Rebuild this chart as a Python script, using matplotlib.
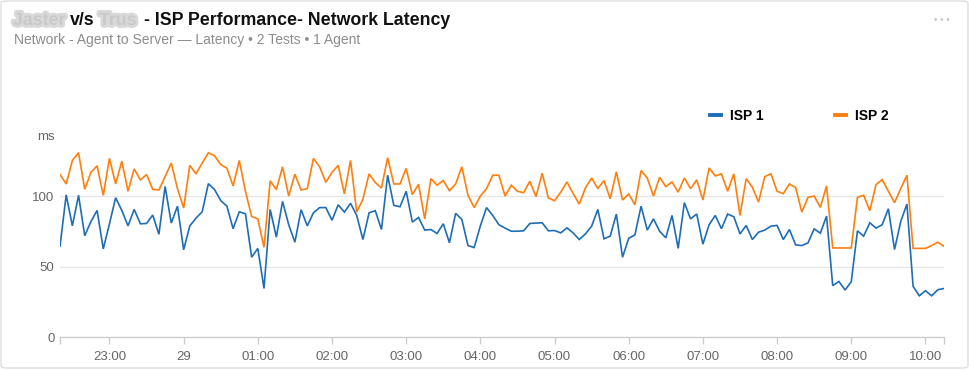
import matplotlib
matplotlib.use("Agg")
import matplotlib.pyplot as plt
import matplotlib.dates as mdates
import matplotlib.patheffects as pe
from matplotlib.patches import FancyBboxPatch
from matplotlib.ticker import FuncFormatter
import pandas as pd

plt.rcParams['font.family'] = ['Liberation Sans', 'DejaVu Sans']

# ---- data ----
start_time = "2024-03-28 22:20"
interval = "5min"
series_names = ["ISP 1", "ISP 2"]
series_colors = ["#1f6db5", "#ff7f0e"]

isp1 = [64.5, 101, 79, 100.7, 72, 82, 90, 62.6, 80.5, 99, 90, 79, 90.7, 80.5, 80.7, 86.7, 73, 107, 81, 93,
        62, 79, 84.5, 89, 109, 104.8, 97, 93, 77, 89, 87.6, 56.7, 63, 34.5, 90.7, 71, 96.4,
        79.8, 67.4, 90.5, 79, 88.3, 92, 92, 83, 94, 88.8, 95, 86.4, 69.3, 88.3, 89.8, 76.4, 115, 93.6, 92.6,
        103.6, 81.7, 85, 76, 76.4, 73.6, 80.5, 67, 87.9, 83.6, 65, 63.6, 79, 92, 86.4, 79.8,
        77.4, 75.2, 75.2, 75.5, 80.7, 81, 81.2, 75.5, 75.7, 74, 77.6, 74, 69.3, 73.3, 78.8, 90.7, 69.8, 71.7,
        87.4, 56.7, 70.2, 72.6, 93, 76, 84, 75.2, 70.5, 86.4, 63, 95.5, 84, 87.4, 66, 79.8, 86.4, 77,
        87.4, 85.5, 73.3, 79.3, 69.3, 74.5, 76, 78.8, 79.3, 69.3, 76.4, 65.5, 65, 66.9, 76.9, 73.8, 86,
        36.5, 39.5, 33.4, 39.3, 75.5, 71.7, 81.2, 77.4, 79.8, 91.2, 62.2, 82.1, 94.5, 36, 29.3, 32.9, 29.3,
        33.6, 34.5]

isp2 = [115.5, 108.8, 125.5, 131, 105, 117, 121.7, 100.7, 127, 108.8, 125, 103.6, 119.5, 111.7, 115.5, 105,
        104.5, 114, 123.6, 105.5, 91.7, 122, 116, 123.6, 131, 128.8, 122.6, 120, 107.4, 125.5, 103.6, 85.7,
        84, 63.8, 111, 104.8, 121,
        100.2, 115.7, 104.5, 105.5, 127, 121, 110, 117, 122, 101.7, 125.5, 88.8, 97.9, 116, 109.8, 106,
        127.4, 108.8, 108.8, 119.8, 101.2, 108.6, 84, 112.6, 107.9, 111.2, 104, 108.8, 121, 100.7, 92,
        100.2, 105.5, 115, 115,
        100.2, 107.9, 103.6, 102.6, 110.7, 99.8, 116.4, 98.8, 96.9, 103, 110.2, 102, 94.5, 106, 113, 105.5,
        111.2, 98.3, 117.4, 97.4, 101.7, 94, 118.3, 113, 100.2, 113.6, 106.9, 110.2, 103, 113, 105.5,
        111.7, 97.4, 120.2, 114.5, 116,
        103.6, 116, 86.4, 112.6, 106.4, 96, 114, 116, 103.6, 101.9, 108.8, 106.2, 88.8, 99.3, 100.2, 92.1,
        107.4, 63.3, 63.3, 63.3, 63.3, 99.3, 100.7, 89.8, 108.3, 111.9, 103.6, 95.5, 105.5, 115, 63, 63,
        63, 65, 67.4, 64.5]

y_ticks = [0, 50, 100]
y_grid = [50, 100]
y_label = "ms"

title_hidden_1 = "Jaster"
title_vs = "v/s"
title_hidden_2 = "Trus"
title_rest = "- ISP Performance- Network Latency"
subtitle = "Network - Agent to Server \u2014 Latency \u2022 2 Tests \u2022 1 Agent"

times = pd.date_range(start_time, periods=len(isp1), freq=interval)

# ---- figure ----
W, H = 970, 370
fig = plt.figure(figsize=(W / 100, H / 100), dpi=100, facecolor="white")

def fx(px):
    return px / W

def fy(py):
    return (H - py) / H

card = FancyBboxPatch((fx(1), fy(368)), fx(967), (368 - 1) / H, boxstyle="round,pad=0,rounding_size=0.006",
                      transform=fig.transFigure, facecolor="white", edgecolor="#dedede", linewidth=1.0,
                      zorder=-10)
fig.patches.append(card)

ax_left, ax_right = 60, 944
ax_bottom, ax_top = 337, 126
ax = fig.add_axes([fx(ax_left), fy(ax_bottom), fx(ax_right - ax_left), (ax_bottom - ax_top) / H])
ax.set_zorder(5)
ax.set_facecolor("none")

for vals, name, col in zip([isp1, isp2], series_names, series_colors):
    ax.plot(times, vals, color=col, linewidth=1.2, label=name, solid_joinstyle="miter")

ax.set_xlim(times[0], times[-1])
ax.set_ylim(0, 150)

for s in ["top", "right", "left"]:
    ax.spines[s].set_visible(False)
ax.spines["bottom"].set_color("#cccccc")
ax.spines["bottom"].set_linewidth(1.0)

ax.set_yticks(y_ticks)
ax.tick_params(axis="y", length=0, pad=4, labelsize=9.5, labelcolor="#666666")
for g in y_grid:
    ax.axhline(g, color="#e6e6e6", linewidth=1.0, zorder=0)

ax.xaxis.set_major_locator(mdates.HourLocator())
def fmt(x, pos):
    d = mdates.num2date(x)
    if d.hour == 0 and d.minute == 0:
        return f"{d.day}"
    return d.strftime("%H:%M")
ax.xaxis.set_major_formatter(FuncFormatter(fmt))
ax.set_xticks([mdates.date2num(times[0]), mdates.date2num(times[-1])], minor=True)
ax.tick_params(axis="x", which="both", direction="out", length=5, width=1.0, color="#cccccc",
               pad=5, labelsize=9.5, labelcolor="#666666")

fig.text(fx(46), fy(137), y_label, ha="center", va="center", fontsize=9.5, color="#666666")

# legend
leg = ax.legend(loc="center left", bbox_to_anchor=(fx(710), fy(116)), bbox_transform=fig.transFigure,
                ncol=2, frameon=False, handlelength=0.8, handletextpad=0.65, columnspacing=5.1,
                borderpad=0, borderaxespad=0, prop={"weight": "bold", "size": 10})
for h in leg.legend_handles:
    h.set_linewidth(2.8)

# title
title_y = fy(25)
blur = [pe.withStroke(linewidth=4, foreground="#d9d9d9")]
fig.text(fx(13), title_y, title_hidden_1, fontsize=12.8, fontweight="bold", color="#c9c9c9",
         va="baseline", path_effects=blur)
fig.text(fx(70), title_y, title_vs, fontsize=12.8, fontweight="bold", color="#111111", va="baseline")
fig.text(fx(99), title_y, title_hidden_2, fontsize=12.8, fontweight="bold", color="#c9c9c9",
         va="baseline", path_effects=blur)
fig.text(fx(144), title_y, title_rest, fontsize=12.8, fontweight="bold", color="#111111", va="baseline")
fig.text(fx(14), fy(40), subtitle, fontsize=10, color="#8c8c8c", va="center")
fig.text(fx(942), fy(20), "\u2022 \u2022 \u2022", fontsize=7, color="#c8c8c8", ha="center", va="center")

fig.savefig("out.png", dpi=100, facecolor="white")
